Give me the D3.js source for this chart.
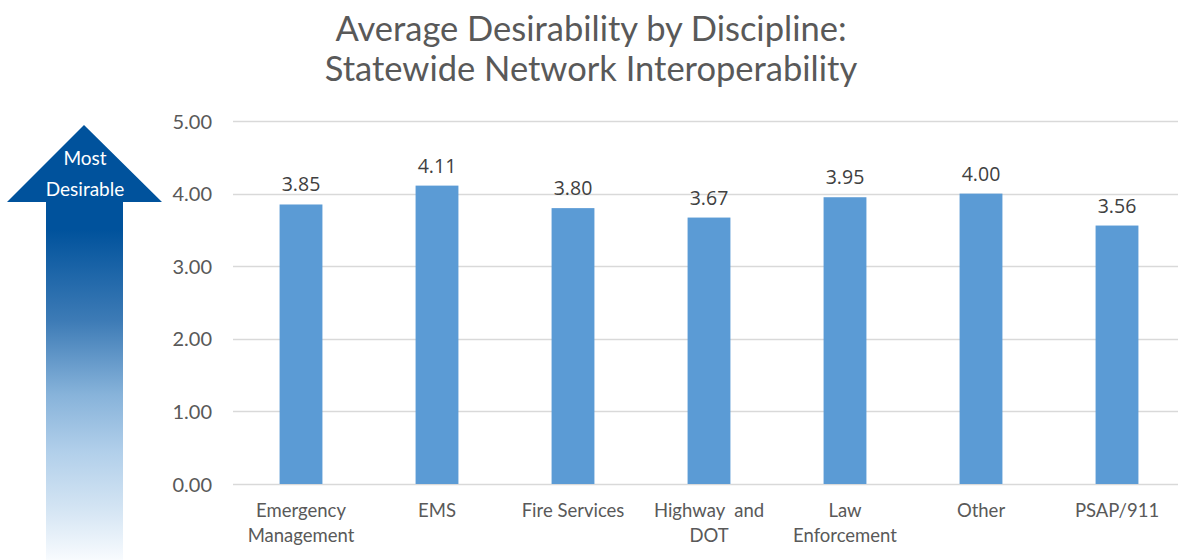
<!DOCTYPE html>
<html>
<head>
<meta charset="utf-8">
<script src="https://cdn.jsdelivr.net/npm/d3@7"></script>
<style>
  html, body { margin: 0; padding: 0; background: #fff; }
  svg { display: block; }
</style>
</head>
<body>
<svg id="chart" width="1178" height="560"></svg>
<script>
const categories = ["Emergency Management", "EMS", "Fire Services", "Highway and DOT", "Law Enforcement", "Other", "PSAP/911"];
const categoryLines = [["Emergency", "Management"], ["EMS"], ["Fire Services"], ["Highway  and", "DOT"], ["Law", "Enforcement"], ["Other"], ["PSAP/911"]];
const values = [3.85, 4.11, 3.80, 3.67, 3.95, 4.00, 3.56];
const tickValues = [0, 1, 2, 3, 4, 5];
const titleLines = ["Average Desirability by Discipline:", "Statewide Network Interoperability"];
const arrowLines = ["Most", "Desirable"];

const svg = d3.select("#chart");
const W = 1178, H = 560;
const plot = { left: 233, right: 1185, top: 121, bottom: 484 };
const font = "Lato, 'Open Sans', sans-serif";

const x = d3.scaleBand().domain(categories).range([plot.left, plot.right]).paddingInner(0.685).paddingOuter(0.3425);
const y = d3.scaleLinear().domain([0, 5]).range([plot.bottom, plot.top]);

// Title
svg.append("g").selectAll("text").data(titleLines).join("text")
  .attr("x", 591).attr("y", (d, i) => 41 + i * 40)
  .attr("text-anchor", "middle")
  .attr("font-family", font).attr("font-size", 34.5).attr("fill", "#595959")
  .text(d => d);

// Gradient arrow
const defs = svg.append("defs");
const grad = defs.append("linearGradient").attr("id", "arrowGrad")
  .attr("gradientUnits", "userSpaceOnUse").attr("x1", 0).attr("y1", 125).attr("x2", 0).attr("y2", 560);
[[0, "#00529c"], [0.24, "#00529c"], [0.45, "#3d7bb6"], [0.62, "#87b3da"], [0.75, "#b1cfea"], [0.88, "#d3e4f3"], [1, "#f8fbfe"]]
  .forEach(([o, c]) => grad.append("stop").attr("offset", o).attr("stop-color", c));

const ah = { cx: 84, top: 125, base: 202, hl: 7, hr: 162, sl: 46, sr: 123, bottom: 560 };
const arrowPath = d3.path();
arrowPath.moveTo(ah.cx, ah.top);
arrowPath.lineTo(ah.hr, ah.base);
arrowPath.lineTo(ah.sr, ah.base);
arrowPath.lineTo(ah.sr, ah.bottom);
arrowPath.lineTo(ah.sl, ah.bottom);
arrowPath.lineTo(ah.sl, ah.base);
arrowPath.lineTo(ah.hl, ah.base);
arrowPath.closePath();
svg.append("path").attr("d", arrowPath.toString()).attr("fill", "url(#arrowGrad)");

svg.append("g").selectAll("text").data(arrowLines).join("text")
  .attr("x", ah.cx + 1).attr("y", (d, i) => 165 + i * 31)
  .attr("text-anchor", "middle")
  .attr("font-family", font).attr("font-size", 19).attr("fill", "#ffffff")
  .text(d => d);

// Gridlines
svg.append("g").selectAll("line").data(tickValues).join("line")
  .attr("x1", plot.left).attr("x2", W)
  .attr("y1", d => Math.round(y(d)) + 0.5).attr("y2", d => Math.round(y(d)) + 0.5)
  .attr("stroke", "#d9d9d9").attr("stroke-width", 1.5);

// Y axis labels
const yAxis = d3.axisLeft(y).tickValues(tickValues).tickFormat(d3.format(".2f")).tickSize(0).tickPadding(0);
const yg = svg.append("g").attr("transform", `translate(212,0)`).call(yAxis);
yg.select(".domain").remove();
yg.selectAll("text").attr("font-family", font).attr("font-size", 20).attr("fill", "#595959").attr("dy", "0.35em");

// Bars
svg.append("g").selectAll("rect").data(values).join("rect")
  .attr("x", (d, i) => x(categories[i]))
  .attr("width", x.bandwidth())
  .attr("y", d => y(d))
  .attr("height", d => y(0) - y(d))
  .attr("fill", "#5b9bd5");

// Data labels
svg.append("g").selectAll("text").data(values).join("text")
  .attr("x", (d, i) => x(categories[i]) + x.bandwidth() / 2)
  .attr("y", d => y(d) - 13)
  .attr("text-anchor", "middle")
  .attr("font-family", "'Open Sans', sans-serif").attr("font-size", 19.5).attr("fill", "#404040")
  .text(d => d3.format(".2f")(d));

// Category labels
const cg = svg.append("g").selectAll("g").data(categories).join("g")
  .attr("transform", d => `translate(${x(d) + x.bandwidth() / 2},0)`);
cg.selectAll("text").data((d, i) => categoryLines[i]).join("text")
  .attr("x", 0).attr("y", (d, i) => 517 + i * 25)
  .attr("text-anchor", "middle")
  .attr("font-family", font).attr("font-size", 18.5).attr("fill", "#595959")
  .style("white-space", "pre")
  .text(d => d);
</script>
</body>
</html>
